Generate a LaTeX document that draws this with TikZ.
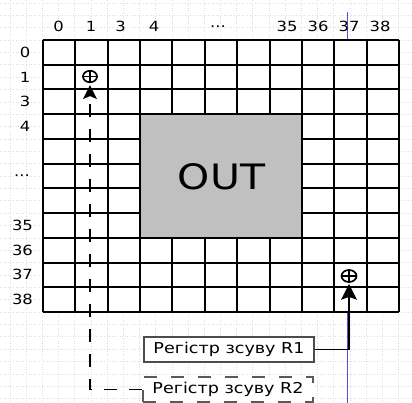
\documentclass[tikz,border=0pt]{standalone}
\usepackage{fontspec}
\setmainfont{DejaVu Sans}[FakeStretch=1.17]
\usetikzlibrary{arrows.meta,shapes.geometric}
\definecolor{cellgray}{HTML}{C0C0C0}
\definecolor{pageblue}{HTML}{5050E0}
\tikzset{
  bgline/.style={draw=black!13, line width=0.6pt, dotted},
  gridline/.style={draw=black, line width=2pt},
  lbl/.style={inner sep=0pt, text=black, font=\fontsize{14}{16}\selectfont},
  regbox/.style={draw=black!70, line width=1.3pt, fill=white, minimum width=170pt, minimum height=25pt, inner sep=0pt, text=black, font=\fontsize{15}{17}\selectfont},
  xorsym/.style={ellipse, draw=black, line width=1.7pt, minimum width=14pt, minimum height=11.5pt, inner sep=0pt},
  conn/.style={draw=black, line width=1.8pt},
  bigtip/.style={-{Stealth[length=#1, width=#1, inset=3pt, line width=0pt]}},
}
\begin{document}
\begin{tikzpicture}[x=1pt,y=-1pt]
\useasboundingbox (0,0) rectangle (412,403);
% page background grid
\foreach \i in {0,...,24} \draw[bgline] ({10+16.182*\i},0) -- ({10+16.182*\i},403);
\foreach \j in {0,...,32} \draw[bgline] (0,{2.9+12.3635*\j}) -- (412,{2.9+12.3635*\j});
% page guide line
\draw[pageblue, line width=1pt] (347,12) -- (347,403);
% grid
\def\cw{32.364}
\def\rh{24.727}
\fill[white] (43,40) rectangle (399,312);
\foreach \i in {0,...,11} \draw[gridline] ({43+\cw*\i},40) -- ({43+\cw*\i},312);
\foreach \j in {0,...,11} \draw[gridline] (43,{40+\rh*\j}) -- (399,{40+\rh*\j});
\filldraw[fill=cellgray, gridline] ({43+\cw*3},{40+\rh*3}) rectangle ({43+\cw*8},{40+\rh*8});
\node[inner sep=0pt, font=\fontsize{35}{40}\selectfont] (out) at (221.5,176.5) {OUT};
% column headers
\node[lbl] (h0) at (58.5,26.5) {0};
\node[lbl] (h1) at (91,26.5) {1};
\node[lbl] (h3) at (120.5,26.5) {3};
\node[lbl] (h4) at (154,26.5) {4};
\node[lbl] (hd) at (218,26.5) {...};
\node[lbl] (h35) at (287,26.5) {35};
\node[lbl] (h36) at (318,26.5) {36};
\node[lbl] (h37) at (349,26.5) {37};
\node[lbl] (h38) at (380,26.5) {38};
% row headers
\node[lbl] (r0) at (25,52.4) {0};
\node[lbl] (rr1) at (25,77.1) {1};
\node[lbl] (rr3) at (25,101.8) {3};
\node[lbl] (rr4) at (25,126.5) {4};
\node[lbl] (rd) at (22,175.9) {...};
\node[lbl] (rr35) at (22.5,225.4) {35};
\node[lbl] (rr36) at (22.5,250.1) {36};
\node[lbl] (rr37) at (22.5,274.8) {37};
\node[lbl] (rr38) at (22.5,299.5) {38};
% xor symbols
\node[xorsym] (p1) at (90,76.5) {};
\draw[line width=1.4pt] (p1.north) -- (p1.south) (p1.west) -- (p1.east);
\node[xorsym, minimum width=15pt, minimum height=12pt] (p2) at (349,276) {};
\draw[line width=1.4pt] (p2.north) -- (p2.south) (p2.west) -- (p2.east);
% registers
\node[regbox] (reg1) at (229,349.5) {Регістр зсуву R1};
\node[regbox, draw=black!65, line width=1.4pt, dash pattern=on 13pt off 14pt] (reg2) at (228,389.5) {Регістр зсуву R2};
% connectors
\draw[conn, bigtip=16pt] (reg1.east) -| ([yshift=-1pt]p2.south);
\draw[conn, dash pattern=on 13pt off 12pt, bigtip=14pt] (reg2.west) -| ([yshift=-2pt]p1.south);
\end{tikzpicture}
\end{document}
